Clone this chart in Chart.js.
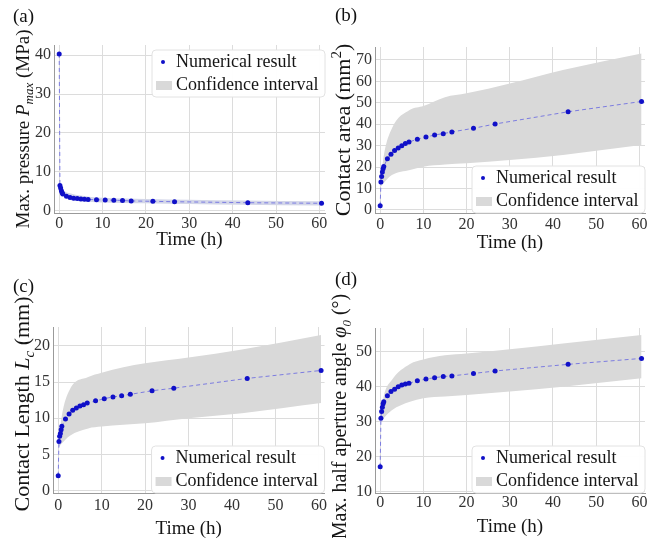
<!DOCTYPE html>
<html>
<head>
<meta charset="utf-8">
<script src="https://cdn.jsdelivr.net/npm/chart.js@4.4.0/dist/chart.umd.min.js"></script>
<style>
  body { margin: 0; background: #fff; }
  #wrap { position: relative; width: 660px; height: 538px; }
  .panel { position: absolute; width: 330px; height: 269px; }
  .tag { position: absolute; font: 19px 'Liberation Serif', serif; color: #111; }
</style>
</head>
<body>
<div id="wrap">
  <div class="panel" style="left:0;top:0"><canvas id="ca" width="330" height="269"></canvas></div>
  <div class="panel" style="left:330px;top:0"><canvas id="cb" width="330" height="269"></canvas></div>
  <div class="panel" style="left:0;top:269px"><canvas id="cc" width="330" height="269"></canvas></div>
  <div class="panel" style="left:330px;top:269px"><canvas id="cd" width="330" height="269"></canvas></div>
  <div class="tag" style="left:13px;top:5px">(a)</div>
  <div class="tag" style="left:335px;top:4px">(b)</div>
  <div class="tag" style="left:13px;top:275px">(c)</div>
  <div class="tag" style="left:335px;top:268px">(d)</div>
</div>
<script>
// sampling times (h)
const hours = [0, 0.17, 0.33, 0.5, 0.67, 0.83, 1.67, 2.5, 3.33, 4.17, 5, 5.83, 6.67, 8.6, 10.6, 12.6, 14.6, 16.6, 21.6, 26.6, 43.5, 60.5];

// numerical results
const pressure = [40.3, 6.5, 5.8, 5.1, 4.6, 4.3, 3.7, 3.4, 3.2, 3.1, 3.0, 2.95, 2.9, 2.8, 2.75, 2.7, 2.6, 2.5, 2.4, 2.3, 2.05, 1.9];
const area = [2.0, 13.1, 15.6, 17.7, 19.2, 20.3, 23.9, 26.0, 27.7, 28.9, 30.0, 31.0, 31.7, 33.0, 34.0, 35.0, 35.6, 36.4, 38.1, 40.1, 45.8, 50.6];
const contactLength = [2.07, 6.8, 7.5, 7.9, 8.4, 8.9, 9.9, 10.6, 11.1, 11.4, 11.7, 11.85, 12.1, 12.4, 12.7, 12.95, 13.1, 13.3, 13.8, 14.15, 15.5, 16.6];
const angle = [17.1, 31.0, 32.9, 34.1, 35.1, 35.7, 37.4, 38.6, 39.3, 40.0, 40.5, 40.8, 41.0, 41.7, 42.2, 42.6, 42.9, 43.1, 43.8, 44.5, 46.4, 48.1];

// confidence interval bounds
const bandHours = [0.17, 0.8, 2.7, 6.9, 10, 15, 20, 30, 42.3, 60.5];
const pressureHi = [7.2, 5.6, 4.4, 3.6, 3.3, 3.1, 3.0, 2.8, 2.6, 2.4];
const pressureLo = [5.6, 4.2, 2.9, 2.3, 2.1, 2.0, 1.9, 1.7, 1.5, 1.3];
const areaHi = [14, 25, 38, 46.7, 48.5, 52.6, 54.4, 59, 65.3, 73];
const areaLo = [11, 12.5, 16.3, 18.7, 20.2, 21.2, 21.8, 23.3, 25.7, 30.3];
const lengthHi = [7, 10.2, 14, 15.7, 16.3, 17.05, 17.6, 18.4, 19.5, 21.5];
const lengthLo = [6, 6.5, 7.6, 8.6, 8.85, 9.1, 9.3, 10, 10.7, 12.1];
const angleHi = [31.5, 37.1, 41.9, 46.5, 47.8, 49, 49.5, 50.7, 52.4, 54.8];
const angleLo = [30, 31, 33.3, 35.7, 36.7, 37.2, 37.6, 38.6, 40, 42.4];

// tick labels
const timeTicks = [0, 10, 20, 30, 40, 50, 60];
const pressureTicks = [0, 10, 20, 30, 40];
const areaTicks = [0, 10, 20, 30, 40, 50, 60, 70];
const lengthTicks = [0, 5, 10, 15, 20];
const angleTicks = [10, 20, 30, 40, 50];

const FONT = '"Liberation Serif", serif';
Chart.defaults.font.family = FONT;

const toXY = (xs, ys) => xs.map((x, i) => ({ x: x, y: ys[i] }));

// draw a run of text pieces (italic / sub / sup), optionally rotated
function drawRich(ctx, segs, x, y, rotate, size) {
  ctx.save();
  ctx.translate(x, y);
  if (rotate) ctx.rotate(-Math.PI / 2);
  const fontOf = s => (s.italic ? 'italic ' : 'normal ') + 'normal ' + Math.round((s.sub || s.sup) ? size * 0.68 : size) + 'px ' + FONT;
  let total = 0;
  segs.forEach(s => { ctx.font = fontOf(s); s.w = ctx.measureText(s.text).width; total += s.w; });
  let cx = -total / 2;
  ctx.fillStyle = '#151515';
  ctx.textBaseline = 'alphabetic';
  ctx.textAlign = 'left';
  const base = size * 0.33;
  segs.forEach(s => {
    ctx.font = fontOf(s);
    let dy = base;
    if (s.sub) dy += size * 0.22;
    if (s.sup) dy -= size * 0.4;
    ctx.fillText(s.text, cx, dy);
    cx += s.w;
  });
  ctx.restore();
}

function makePanel(id, cfg) {
  const decor = {
    id: 'decor',
    afterDraw(chart) {
      const ctx = chart.ctx;
      const a = chart.chartArea;
      // axis titles
      drawRich(ctx, [{ text: 'Time (h)' }], (a.left + a.right) / 2, a.bottom + cfg.xTitleOff, false, 19);
      drawRich(ctx, cfg.yTitle, a.left - cfg.yTitleOff, (a.top + a.bottom) / 2 + (cfg.yShift || 0), true, cfg.ySize);

      // legend box
      const w = 173, h = 47;
      const lx = a.right - w;
      const ly = cfg.legendTop ? a.top + 5 : a.bottom - h;
      ctx.save();
      ctx.beginPath();
      ctx.roundRect(lx, ly, w, h, 4);
      ctx.fillStyle = 'rgba(255,255,255,0.95)';
      ctx.fill();
      ctx.strokeStyle = '#e2e2e2';
      ctx.lineWidth = 1;
      ctx.stroke();
      ctx.fillStyle = '#1010c8';
      ctx.beginPath();
      ctx.arc(lx + 11, ly + 12, 2, 0, Math.PI * 2);
      ctx.fill();
      ctx.fillStyle = '#d9d9d9';
      ctx.fillRect(lx + 4, ly + 31, 16, 9);
      ctx.fillStyle = '#151515';
      ctx.font = 'normal normal 18px ' + FONT;
      ctx.textBaseline = 'middle';
      ctx.fillText('Numerical result', lx + 24, ly + 12);
      ctx.fillText('Confidence interval', lx + 24, ly + 35);
      ctx.restore();
    }
  };

  return new Chart(document.getElementById(id), {
    type: 'line',
    data: {
      datasets: [
        {
          label: 'Numerical result',
          data: toXY(hours, cfg.values),
          borderColor: 'rgba(100,100,225,0.8)',
          borderWidth: 1,
          borderDash: [4, 3],
          pointRadius: 2.5,
          pointBackgroundColor: '#1010c8',
          pointBorderWidth: 0,
          fill: false
        },
        {
          label: 'upper',
          data: toXY(bandHours, cfg.hi),
          borderWidth: 0,
          pointRadius: 0,
          cubicInterpolationMode: 'monotone',
          fill: false
        },
        {
          label: 'Confidence interval',
          data: toXY(bandHours, cfg.lo),
          borderWidth: 0,
          pointRadius: 0,
          cubicInterpolationMode: 'monotone',
          backgroundColor: cfg.bandColor,
          fill: '-1'
        }
      ]
    },
    options: {
      responsive: false,
      animation: false,
      layout: { padding: cfg.pad },
      plugins: { legend: { display: false }, tooltip: { enabled: false } },
      scales: {
        x: {
          type: 'linear',
          min: -1.2,
          max: 61.3,
          afterBuildTicks: s => { s.ticks = timeTicks.map(v => ({ value: v })); },
          afterFit: s => { s.height = cfg.xh; },
          grid: { color: '#dcdcdc', drawTicks: false },
          border: { color: '#9a9a9a' },
          ticks: { font: { family: FONT, size: 16 }, color: '#333', padding: cfg.xpad, maxRotation: 0 }
        },
        y: {
          min: cfg.ymin,
          max: cfg.ymax,
          afterBuildTicks: s => { s.ticks = cfg.yTicks.map(v => ({ value: v })); },
          afterFit: s => { s.width = cfg.yw; },
          grid: { color: '#dcdcdc', drawTicks: false },
          border: { color: '#9a9a9a' },
          ticks: { font: { family: FONT, size: 16 }, color: '#333', padding: 3 }
        }
      }
    },
    plugins: [decor]
  });
}

function build() {
  makePanel('ca', {
    values: pressure, hi: pressureHi, lo: pressureLo, bandColor: '#d3d6e8',
    ymin: -0.6, ymax: 42.6, yTicks: pressureTicks,
    pad: { top: 45, right: 5, left: 0, bottom: 0 }, yw: 54, xh: 56, xpad: 1,
    xTitleOff: 26, yTitleOff: 31, ySize: 19, legendTop: true,
    yTitle: [{ text: 'Max. pressure ' }, { text: 'P', italic: true }, { text: 'max', italic: true, sub: true }, { text: ' (MPa)' }]
  });

  makePanel('cb', {
    values: area, hi: areaHi, lo: areaLo, bandColor: '#d9d9d9',
    ymin: -1.4, ymax: 76, yTicks: areaTicks,
    pad: { top: 47, right: 15, left: 0, bottom: 0 }, yw: 45, xh: 56, xpad: 2,
    xTitleOff: 29, yTitleOff: 32, ySize: 21.5, legendTop: false,
    yTitle: [{ text: 'Contact area (mm' }, { text: '2', sup: true }, { text: ')' }]
  });

  makePanel('cc', {
    values: contactLength, hi: lengthHi, lo: lengthLo, bandColor: '#d9d9d9',
    ymin: -0.32, ymax: 22.6, yTicks: lengthTicks,
    pad: { top: 58, right: 5, left: 0, bottom: 0 }, yw: 53, xh: 45, xpad: 3,
    xTitleOff: 35, yTitleOff: 31, ySize: 21.5, yShift: -6, legendTop: false,
    yTitle: [{ text: 'Contact Length ' }, { text: 'L', italic: true }, { text: 'c', italic: true, sub: true }, { text: ' (mm)' }]
  });

  makePanel('cd', {
    values: angle, hi: angleHi, lo: angleLo, bandColor: '#d9d9d9',
    ymin: 9.6, ymax: 56.8, yTicks: angleTicks,
    pad: { top: 59, right: 15, left: 0, bottom: 0 }, yw: 45, xh: 45, xpad: 0,
    xTitleOff: 33, yTitleOff: 35, ySize: 19.5, yShift: 6, legendTop: false,
    yTitle: [{ text: 'Max. half aperture angle ' }, { text: 'φ', italic: true }, { text: '0', italic: true, sub: true }, { text: ' (°)' }]
  });
}

document.fonts.load('16px "Liberation Serif"').then(build, build);
</script>
</body>
</html>
